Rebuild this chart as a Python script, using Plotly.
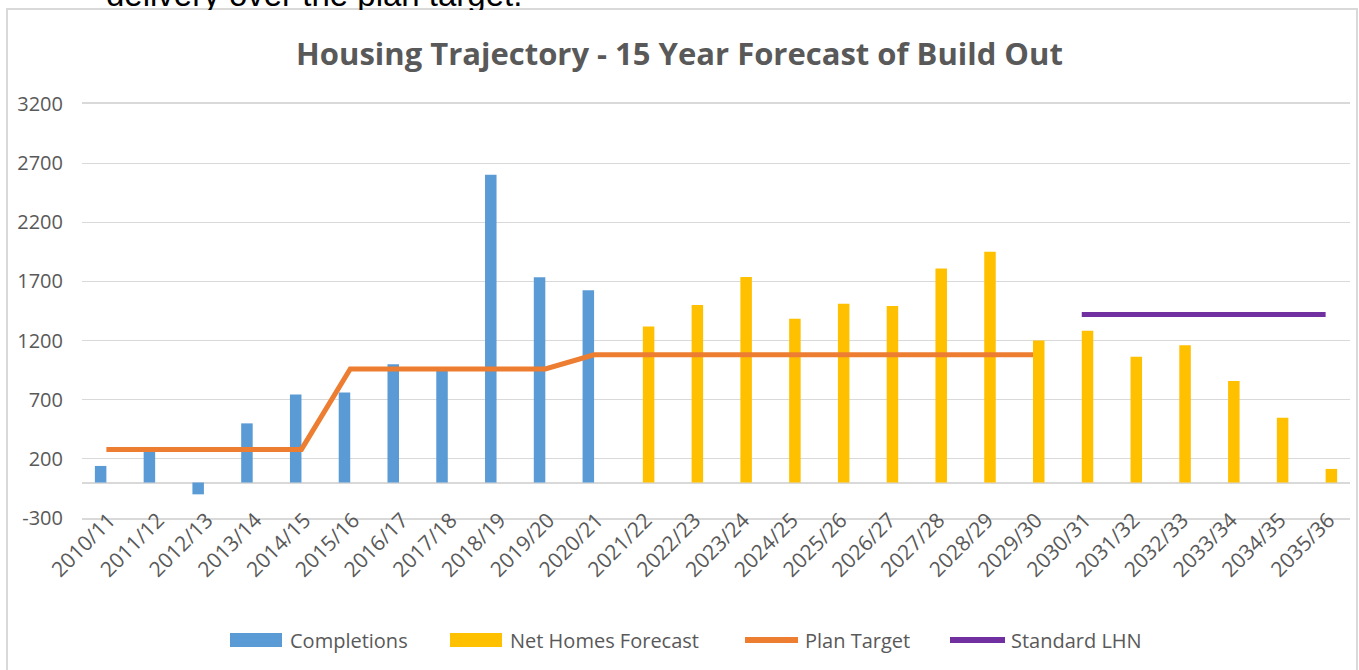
import plotly.graph_objects as go

categories = ["2010/11", "2011/12", "2012/13", "2013/14", "2014/15", "2015/16", "2016/17",
              "2017/18", "2018/19", "2019/20", "2020/21", "2021/22", "2022/23", "2023/24",
              "2024/25", "2025/26", "2026/27", "2027/28", "2028/29", "2029/30", "2030/31",
              "2031/32", "2032/33", "2033/34", "2034/35", "2035/36"]

completions = [140, 270, -100, 500, 745, 760, 1000, 950, 2602, 1735, 1625,
               None, None, None, None, None, None, None, None, None, None, None, None, None, None, None]

net_homes_forecast = [None, None, None, None, None, None, None, None, None, None, None,
                      1320, 1500, 1738, 1385, 1512, 1492, 1810, 1950, 1200, 1282, 1063, 1160, 858, 548, 115]

plan_target = [280, 280, 280, 280, 280, 960, 960, 960, 960, 960,
               1080, 1080, 1080, 1080, 1080, 1080, 1080, 1080, 1080, 1080,
               None, None, None, None, None, None]

standard_lhn = [None] * 20 + [1420, 1420, 1420, 1420, 1420, 1420]

y_ticks = [-300, 200, 700, 1200, 1700, 2200, 2700, 3200]

legend_names = ["Completions", "Net Homes Forecast", "Plan Target", "Standard LHN"]

BLUE = "#5B9BD5"
YELLOW = "#FFC000"
ORANGE = "#ED7D31"
PURPLE = "#7030A0"
GRID = "#D9D9D9"
TEXT = "#595959"
FONT = "Open Sans"

W, H = 1359, 670
L, R, T, B = 82, 9, 104, 152
PW = W - L - R
PH = H - T - B


def px(x):
    return (x - L) / PW


def py(y):
    return (H - B - y) / PH


fig = go.Figure()
fig.add_trace(go.Bar(x=categories, y=completions, name=legend_names[0],
                     marker=dict(color=BLUE, line=dict(width=0)), showlegend=False))
fig.add_trace(go.Bar(x=categories, y=net_homes_forecast, name=legend_names[1],
                     marker=dict(color=YELLOW, line=dict(width=0)), showlegend=False))
fig.add_trace(go.Scatter(x=categories, y=plan_target, name=legend_names[2], mode="lines",
                         line=dict(color=ORANGE, width=5), showlegend=False))
fig.add_trace(go.Scatter(x=categories, y=standard_lhn, name=legend_names[3], mode="lines",
                         line=dict(color=PURPLE, width=5), showlegend=False))

shapes = []
annotations = []

# cut-off text above the chart (drawn first, then partly covered by the chart area)
annotations.append(dict(text="delivery over the plan target.", xref="paper", yref="paper",
                        x=px(104), y=py(15), xanchor="left", yanchor="bottom", showarrow=False,
                        font=dict(family="Liberation Sans", size=33, color="#000000")))
annotations.append(dict(text=" ", xref="paper", yref="paper", x=px(90), y=py(10),
                        xanchor="left", yanchor="top", showarrow=False, width=520, height=14,
                        bgcolor="white", borderpad=0, borderwidth=0))

# chart border
shapes.append(dict(type="rect", xref="paper", yref="paper",
                   x0=px(7), x1=px(1357), y0=py(700), y1=py(9),
                   line=dict(color=GRID, width=2), fillcolor="rgba(0,0,0,0)", layer="above"))

# manual legend
legend_items = [
    ("rect", BLUE, 230, 282, 288, legend_names[0]),
    ("rect", YELLOW, 450, 502, 508, legend_names[1]),
    ("line", ORANGE, 745, 798, 803, legend_names[2]),
    ("line", PURPLE, 950, 1005, 1009, legend_names[3]),
]
for kind, col, x0, x1, tx, name in legend_items:
    if kind == "rect":
        shapes.append(dict(type="rect", xref="paper", yref="paper",
                           x0=px(x0), x1=px(x1), y0=py(647), y1=py(633),
                           line=dict(width=0), fillcolor=col))
    else:
        shapes.append(dict(type="line", xref="paper", yref="paper",
                           x0=px(x0), x1=px(x1), y0=py(640), y1=py(640),
                           line=dict(color=col, width=6)))
    annotations.append(dict(text=name, xref="paper", yref="paper", x=px(tx), y=py(640),
                            xanchor="left", yanchor="middle", showarrow=False,
                            font=dict(family=FONT, size=20, color=TEXT)))

fig.update_layout(
    width=W, height=H,
    margin=dict(l=L, r=R, t=T, b=B),
    paper_bgcolor="white", plot_bgcolor="white",
    barmode="group", bargap=0.528, bargroupgap=0,
    title=dict(text="<b>Housing Trajectory - 15 Year Forecast of Build Out</b>",
               x=0.5, xanchor="center", xref="container",
               y=1 - 54 / H, yanchor="middle", yref="container",
               font=dict(family=FONT, size=31, color=TEXT)),
    font=dict(family=FONT, color=TEXT),
    shapes=shapes, annotations=annotations,
    xaxis=dict(type="category", categoryorder="array", categoryarray=categories,
               tickangle=-45, tickfont=dict(family=FONT, size=21, color=TEXT),
               showgrid=False, showline=True, linecolor=GRID, linewidth=1.5, mirror=True,
               ticks="", zeroline=False, ticklabelstandoff=-20, ticklabelshift=3),
    yaxis=dict(range=[-300, 3200], tickvals=y_ticks, ticktext=[str(v) for v in y_ticks],
               tickfont=dict(family=FONT, size=20, color=TEXT),
               showgrid=True, gridcolor=GRID, gridwidth=1.3,
               zeroline=True, zerolinecolor=GRID, zerolinewidth=1.5,
               showline=False, ticks="", ticklabelstandoff=18),
)

fig.write_html("out.html")
